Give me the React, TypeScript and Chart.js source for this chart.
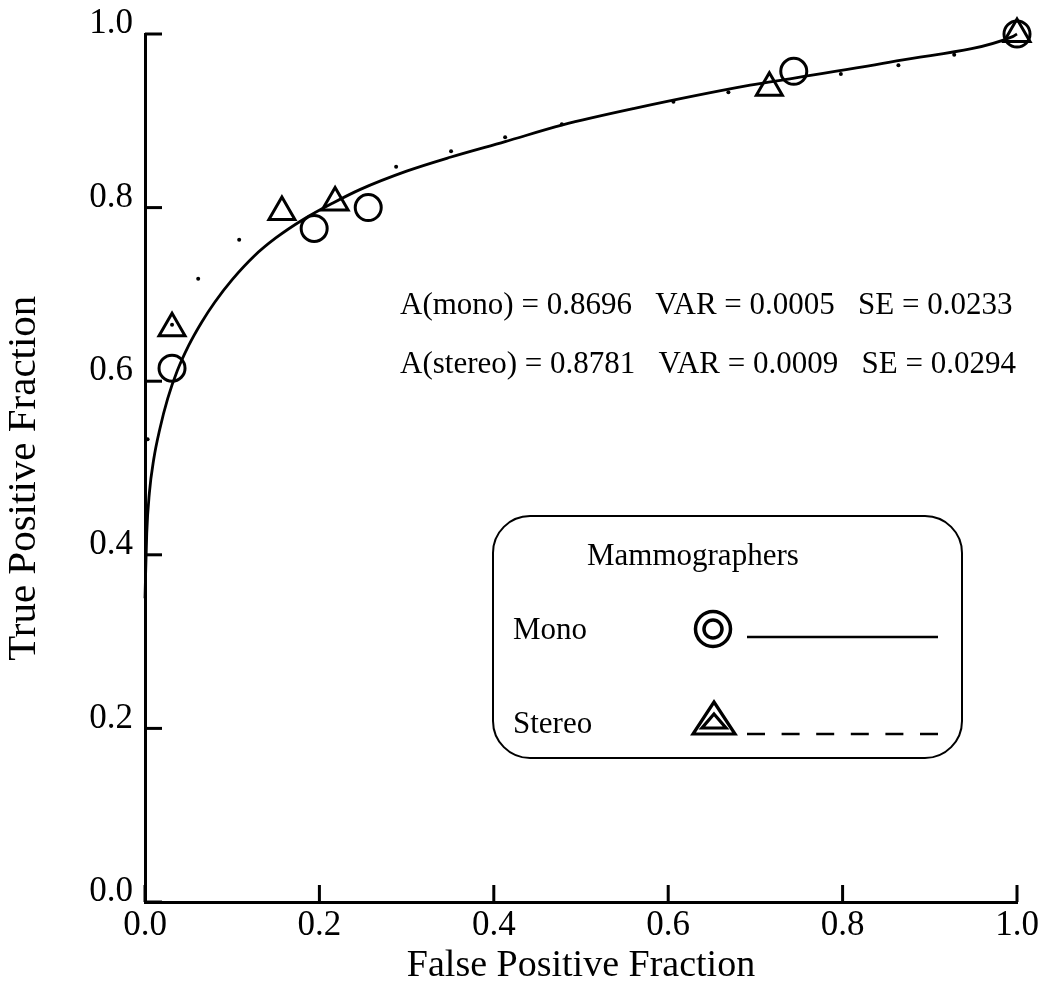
import React, { useEffect, useRef } from "react";
import { Chart, registerables } from "chart.js";

Chart.register(...registerables);

// ---- Data ----
const tickValues = [0, 0.2, 0.4, 0.6, 0.8, 1.0];

// Mono observer operating points (circles)
const monoFPF = [0.031, 0.194, 0.256, 0.744, 1.0];
const monoTPF = [0.615, 0.776, 0.8, 0.957, 1.0];

// Stereo observer operating points (triangles)
const stereoFPF = [0.031, 0.157, 0.218, 0.716, 1.0];
const stereoTPF = [0.661, 0.795, 0.806, 0.938, 1.0];

// Fitted mono ROC curve (solid)
const monoCurveFPF = [0, 0.002, 0.005, 0.01, 0.017, 0.026, 0.037, 0.05, 0.065, 0.08, 0.1, 0.125, 0.15, 0.181, 0.215, 0.247, 0.3, 0.35, 0.413, 0.478, 0.56, 0.694, 0.743, 0.862, 0.995, 1.0];
const monoCurveTPF = [0.35, 0.425, 0.471, 0.51, 0.545, 0.58, 0.612, 0.641, 0.668, 0.691, 0.717, 0.744, 0.765, 0.786, 0.805, 0.821, 0.842, 0.858, 0.876, 0.895, 0.914, 0.941, 0.949, 0.969, 0.997, 1.0];

// Fitted stereo ROC curve (sparse dots), read dot by dot
const stereoDotsFPF = [0.003, 0.031, 0.061, 0.108, 0.288, 0.351, 0.413, 0.478, 0.606, 0.669, 0.798, 0.864, 0.928];
const stereoDotsTPF = [0.533, 0.665, 0.718, 0.763, 0.847, 0.865, 0.881, 0.896, 0.922, 0.933, 0.954, 0.964, 0.976];

const xTitle = "False Positive Fraction";
const yTitle = "True Positive Fraction";
const annotationLines = [
  "A(mono) = 0.8696   VAR = 0.0005   SE = 0.0233",
  "A(stereo) = 0.8781   VAR = 0.0009   SE = 0.0294",
];
const legendTitle = "Mammographers";
const legendLabels = ["Mono", "Stereo"];

const SERIF = '"Liberation Serif", "Times New Roman", serif';

const zip = (xs: number[], ys: number[]) => xs.map((x, i) => ({ x, y: ys[i] }));

const overlayPlugin = {
  id: "overlay",
  afterDraw(chart: any) {
    const ctx: CanvasRenderingContext2D = chart.ctx;
    const xs = chart.scales.x;
    const ys = chart.scales.y;
    const { left, bottom } = chart.chartArea;
    ctx.save();
    ctx.strokeStyle = "#000";
    ctx.fillStyle = "#000";
    ctx.lineCap = "butt";

    // inward tick marks
    ctx.lineWidth = 3;
    ys.ticks.forEach((t: any) => {
      const p = ys.getPixelForValue(t.value);
      ctx.beginPath();
      ctx.moveTo(left, p);
      ctx.lineTo(left + 17, p);
      ctx.stroke();
    });
    xs.ticks.forEach((t: any) => {
      const p = xs.getPixelForValue(t.value);
      ctx.beginPath();
      ctx.moveTo(p, bottom);
      ctx.lineTo(p, bottom - 17);
      ctx.stroke();
    });

    // area annotations
    ctx.font = `31px ${SERIF}`;
    ctx.textAlign = "left";
    ctx.textBaseline = "alphabetic";
    ctx.fillText(annotationLines[0], 400, 314);
    ctx.fillText(annotationLines[1], 400, 373);

    // legend box
    ctx.lineWidth = 2;
    ctx.beginPath();
    (ctx as any).roundRect(493, 516, 469, 242, 37);
    ctx.stroke();

    ctx.fillText(legendTitle, 587, 565);
    ctx.fillText(legendLabels[0], 513, 639);
    ctx.fillText(legendLabels[1], 513, 733);

    // double circle symbol
    ctx.lineWidth = 3.5;
    ctx.beginPath();
    ctx.arc(713, 629, 17.5, 0, Math.PI * 2);
    ctx.stroke();
    ctx.beginPath();
    ctx.arc(713, 629, 9, 0, Math.PI * 2);
    ctx.stroke();

    // solid line sample
    ctx.lineWidth = 2.5;
    ctx.beginPath();
    ctx.moveTo(747, 637);
    ctx.lineTo(938, 637);
    ctx.stroke();

    // double triangle symbol
    ctx.lineWidth = 3.2;
    ctx.lineJoin = "miter";
    ctx.beginPath();
    ctx.moveTo(714, 702);
    ctx.lineTo(735, 734);
    ctx.lineTo(693, 734);
    ctx.closePath();
    ctx.stroke();
    ctx.beginPath();
    ctx.moveTo(714, 714);
    ctx.lineTo(726, 728);
    ctx.lineTo(702, 728);
    ctx.closePath();
    ctx.stroke();

    // dashed line sample
    ctx.lineWidth = 2.5;
    ctx.setLineDash([18, 16.6]);
    ctx.beginPath();
    ctx.moveTo(747, 734);
    ctx.lineTo(938, 734);
    ctx.stroke();
    ctx.setLineDash([]);

    ctx.restore();
  },
};

export default function App() {
  const ref = useRef<HTMLCanvasElement>(null);

  useEffect(() => {
    const canvas = ref.current;
    if (!canvas) return;
    const chart = new Chart(canvas, {
      type: "scatter",
      data: {
        datasets: [
          {
            label: "Mono points",
            data: zip(monoFPF, monoTPF),
            pointStyle: "circle",
            pointRadius: 13,
            pointBorderWidth: 3,
            pointBorderColor: "#000",
            pointBackgroundColor: "rgba(0,0,0,0)",
            showLine: false,
            clip: false,
          },
          {
            label: "Stereo points",
            data: zip(stereoFPF, stereoTPF),
            pointStyle: "triangle",
            pointRadius: 15,
            pointBorderWidth: 3,
            pointBorderColor: "#000",
            pointBackgroundColor: "rgba(0,0,0,0)",
            showLine: false,
            clip: false,
          },
          {
            label: "Mono fit",
            data: zip(monoCurveFPF, monoCurveTPF),
            showLine: true,
            borderColor: "#000",
            borderWidth: 2.8,
            pointRadius: 0,
            cubicInterpolationMode: "monotone",
            fill: false,
            clip: false,
          },
          {
            label: "Stereo fit",
            data: zip(stereoDotsFPF, stereoDotsTPF),
            showLine: false,
            pointStyle: "circle",
            pointRadius: 2,
            pointBorderWidth: 0,
            pointBackgroundColor: "#000",
            clip: false,
          },
        ],
      },
      options: {
        responsive: false,
        maintainAspectRatio: false,
        animation: false,
        devicePixelRatio: 1,
        events: [],
        layout: { padding: { left: 0, right: 30, top: 34, bottom: 0 } },
        plugins: {
          legend: { display: false },
          tooltip: { enabled: false },
        },
        scales: {
          x: {
            type: "linear",
            min: 0,
            max: 1,
            afterBuildTicks: (scale: any) => {
              scale.ticks = tickValues.map((v) => ({ value: v }));
            },
            afterFit: (scale: any) => {
              scale.height = 101;
            },
            ticks: {
              color: "#000",
              font: { family: SERIF, size: 35 },
              padding: 3,
              maxRotation: 0,
              autoSkip: false,
              callback: (v: any) => Number(v).toFixed(1),
            },
            grid: { display: false, drawTicks: false },
            border: { display: true, color: "#000", width: 3 },
            title: {
              display: true,
              text: xTitle,
              color: "#000",
              font: { family: SERIF, size: 38 },
              padding: { top: 0, bottom: 14 },
            },
          },
          y: {
            type: "linear",
            min: 0,
            max: 1,
            afterBuildTicks: (scale: any) => {
              scale.ticks = tickValues.map((v) => ({ value: v }));
            },
            afterFit: (scale: any) => {
              scale.width = 145;
            },
            ticks: {
              color: "#000",
              font: { family: SERIF, size: 35 },
              padding: 12,
              labelOffset: -10,
              autoSkip: false,
              callback: (v: any) => Number(v).toFixed(1),
            },
            grid: { display: false, drawTicks: false },
            border: { display: true, color: "#000", width: 3 },
            title: {
              display: true,
              text: yTitle + "  ",
              color: "#000",
              font: { family: SERIF, size: 41 },
              padding: { top: 0, bottom: 0 },
            },
          },
        },
      },
      plugins: [overlayPlugin],
    } as any);
    return () => chart.destroy();
  }, []);

  return (
    <div style={{ position: "fixed", left: 0, top: 0, width: 1047, height: 1003, background: "#fff" }}>
      <canvas ref={ref} width={1047} height={1003} style={{ display: "block" }} />
    </div>
  );
}
